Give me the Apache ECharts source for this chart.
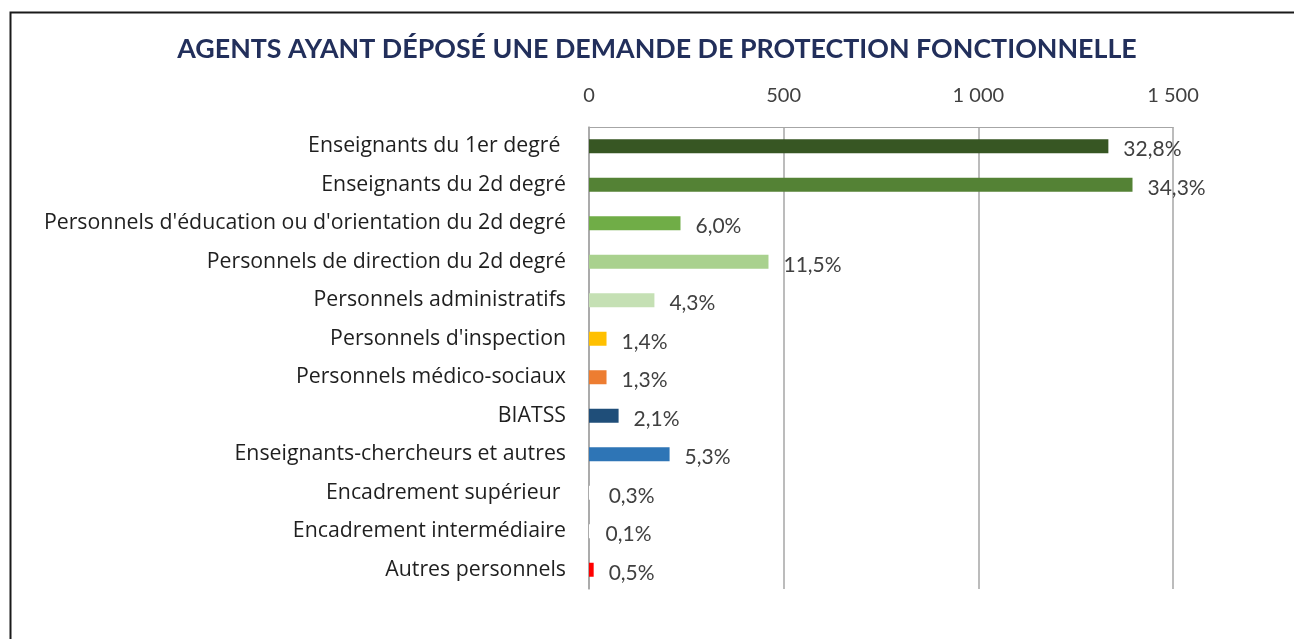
<!DOCTYPE html>
<html>
<head>
<meta charset="utf-8">
<script src="https://cdn.jsdelivr.net/npm/echarts@6/dist/echarts.min.js"></script>
<style>
  html, body { margin: 0; padding: 0; background: #fff; }
  #chart { width: 1294px; height: 639px; }
</style>
</head>
<body>
<div id="chart"></div>
<script>
const categories = [
  "Enseignants du 1er degré ",
  "Enseignants du 2d degré",
  "Personnels d'éducation ou d'orientation du 2d degré",
  "Personnels de direction du 2d degré",
  "Personnels administratifs",
  "Personnels d'inspection",
  "Personnels médico-sociaux",
  "BIATSS",
  "Enseignants-chercheurs et autres",
  "Encadrement supérieur ",
  "Encadrement intermédiaire",
  "Autres personnels"
];
const values = [1334, 1396, 235, 461, 168, 45, 45, 76, 207, 12, 4, 12];
const shares = ["32,8%", "34,3%", "6,0%", "11,5%", "4,3%", "1,4%", "1,3%", "2,1%", "5,3%", "0,3%", "0,1%", "0,5%"];
const barColors = ["#375623", "#548235", "#70ad47", "#a9d18e", "#c5e0b4", "#ffc000",
  "#ed7d31", "#1f4e79", "#2e75b6", "#ffffff", "#ffffff", "#ff0000"];
const xTicks = [0, 500, 1000, 1500];

const chart = echarts.init(document.getElementById("chart"));

chart.setOption({
  backgroundColor: "#fff",
  animation: false,
  textStyle: { fontFamily: "Lato" },
  title: {
    text: "AGENTS AYANT DÉPOSÉ UNE DEMANDE DE PROTECTION FONCTIONNELLE",
    left: 652,
    textAlign: "center",
    top: 31,
    textStyle: { fontFamily: "Lato", fontWeight: "bold", fontSize: 26.8, color: "#222f5b" }
  },
  graphic: [
    {
      type: "rect",
      left: 8, top: 10,
      shape: { width: 1300, height: 660 },
      style: { fill: "none", stroke: "#1a1a1a", lineWidth: 2 },
      silent: true
    }
  ],
  grid: { left: 589, right: 121, top: 127, bottom: 50 },
  xAxis: {
    type: "value",
    position: "top",
    min: xTicks[0],
    max: xTicks[xTicks.length - 1],
    interval: 500,
    axisLine: { show: true, lineStyle: { color: "#a6a6a6", width: 1 } },
    axisTick: { show: false },
    axisLabel: {
      margin: 21,
      fontSize: 20,
      color: "#404040",
      formatter: (v) => (v >= 1000 ? Math.floor(v / 1000) + " " + String(v % 1000).padStart(3, "0") : String(v))
    },
    splitLine: { show: true, lineStyle: { color: "#a6a6a6", width: 1.5 } }
  },
  yAxis: {
    type: "category",
    inverse: true,
    data: categories,
    axisLine: { show: true, lineStyle: { color: "#a6a6a6", width: 1.5 } },
    axisTick: { show: false },
    axisLabel: { margin: 23, fontSize: 21.3, fontFamily: "Open Sans", color: "#1f1f1f" }
  },
  series: [
    {
      type: "bar",
      barWidth: 14,
      data: values.map((v, i) => ({ value: v, itemStyle: { color: barColors[i] } })),
      label: {
        show: true,
        position: "right",
        distance: 15,
        offset: [0, 3],
        fontSize: 21,
        color: "#404040",
        formatter: (p) => shares[p.dataIndex]
      }
    }
  ]
});
</script>
</body>
</html>
